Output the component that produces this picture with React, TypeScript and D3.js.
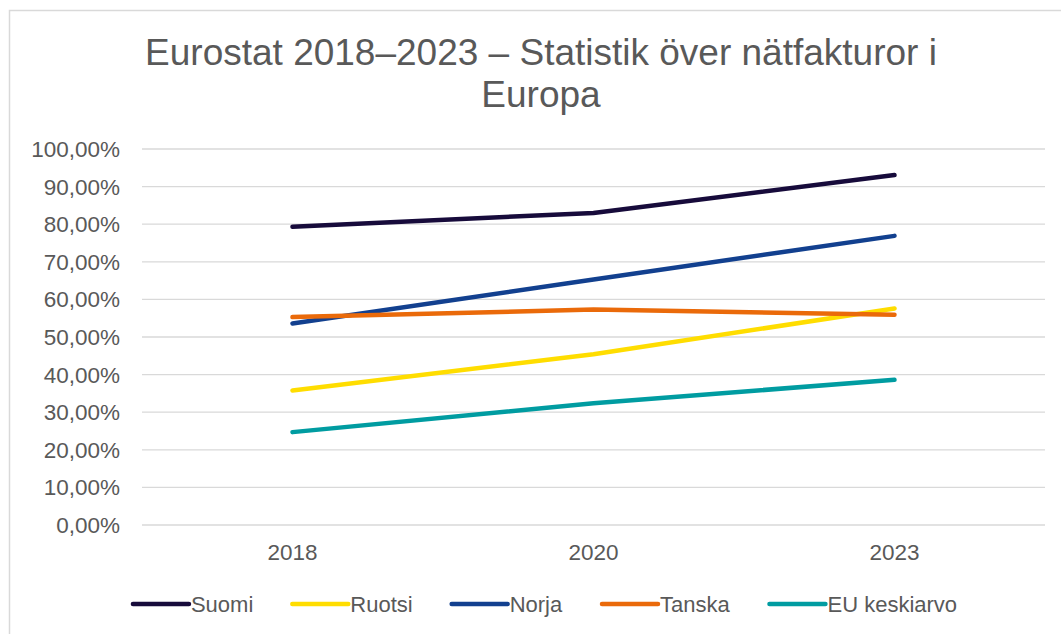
import { useEffect, useRef } from "react";
import * as d3 from "d3";

const years = ["2018", "2020", "2023"];
const seriesNames = ["Suomi", "Ruotsi", "Norja", "Tanska", "EU keskiarvo"];
const seriesColors = ["#170b3b", "#ffdd00", "#12408f", "#ea6a0a", "#009ca1"];
const suomi = [79.3, 83.0, 93.1];
const ruotsi = [35.8, 45.4, 57.6];
const norja = [53.6, 65.3, 76.9];
const tanska = [55.3, 57.3, 55.9];
const euAvg = [24.7, 32.4, 38.6];
const yTicks = [0, 10, 20, 30, 40, 50, 60, 70, 80, 90, 100];
const titleLines = ["Eurostat 2018–2023 – Statistik över nätfakturor i", "Europa"];

const width = 1061;
const height = 634;
const margin = { top: 149, right: 16, bottom: 109, left: 142 };
const font = "'Liberation Sans', Arial, sans-serif";
const textColor = "#595959";

export default function App() {
  const ref = useRef<SVGSVGElement>(null);

  useEffect(() => {
    draw();
  });

  function draw() {
    const svg = d3.select(ref.current);
    svg.selectAll("*").remove();

    const innerW = width - margin.left - margin.right;
    const innerH = height - margin.top - margin.bottom;

    // chart frame
    svg
      .append("rect")
      .attr("x", 9.5)
      .attr("y", 10.5)
      .attr("width", 1100)
      .attr("height", 700)
      .attr("fill", "white")
      .attr("stroke", "#d9d9d9")
      .attr("stroke-width", 1.5);

    // title
    svg
      .append("text")
      .attr("font-family", font)
      .attr("font-size", 37)
      .attr("fill", textColor)
      .attr("text-anchor", "middle")
      .selectAll("tspan")
      .data(titleLines)
      .enter()
      .append("tspan")
      .attr("x", 541)
      .attr("y", (_, i) => 65 + i * 42)
      .text((d) => d);

    const plot = svg
      .append("g")
      .attr("transform", "translate(" + margin.left + "," + margin.top + ")");

    const x = d3.scaleBand().domain(years).range([0, innerW]);
    const y = d3.scaleLinear().domain([0, 100]).range([innerH, 0]);

    // gridlines
    plot
      .selectAll("line.grid")
      .data(yTicks)
      .enter()
      .append("line")
      .attr("x1", 0)
      .attr("x2", innerW)
      .attr("y1", (d) => y(d))
      .attr("y2", (d) => y(d))
      .attr("stroke", "#d9d9d9")
      .attr("stroke-width", 1.3);

    // y labels
    plot
      .selectAll("text.ylab")
      .data(yTicks)
      .enter()
      .append("text")
      .attr("x", -22)
      .attr("y", (d) => y(d) + 8)
      .attr("text-anchor", "end")
      .attr("font-family", font)
      .attr("font-size", 22.5)
      .attr("fill", textColor)
      .text((d) => d.toFixed(2).replace(".", ",") + "%");

    // x labels
    plot
      .selectAll("text.xlab")
      .data(years)
      .enter()
      .append("text")
      .attr("x", (d) => x(d)! + x.bandwidth() / 2)
      .attr("y", innerH + 35)
      .attr("text-anchor", "middle")
      .attr("font-family", font)
      .attr("font-size", 22.5)
      .attr("fill", textColor)
      .text((d) => d);

    const allSeries = [suomi, ruotsi, norja, tanska, euAvg];
    const line = d3
      .line<number>()
      .x((_, i) => x(years[i])! + x.bandwidth() / 2)
      .y((d) => y(d));

    plot
      .selectAll("path.series")
      .data(allSeries)
      .enter()
      .append("path")
      .attr("d", (d) => line(d))
      .attr("fill", "none")
      .attr("stroke", (_, i) => seriesColors[i])
      .attr("stroke-width", 4.5)
      .attr("stroke-linecap", "round")
      .attr("stroke-linejoin", "round");

    // legend
    const legend = svg.append("g").attr("transform", "translate(0,604)");
    const items = legend
      .selectAll("g")
      .data(seriesNames)
      .enter()
      .append("g");
    items
      .append("line")
      .attr("x1", 0)
      .attr("x2", 56)
      .attr("stroke", (_, i) => seriesColors[i])
      .attr("stroke-width", 4.5)
      .attr("stroke-linecap", "round");
    items
      .append("text")
      .attr("x", 58)
      .attr("y", 8)
      .attr("font-family", font)
      .attr("font-size", 22)
      .attr("fill", textColor)
      .text((d) => d);

    const widths: number[] = [];
    items.each(function () {
      widths.push((this as SVGGElement).getBBox().width);
    });
    const gap = 39;
    const total = d3.sum(widths) + gap * (widths.length - 1);
    let cur = 545 - total / 2;
    items.attr("transform", (_, i) => {
      const t = "translate(" + cur + ",0)";
      cur += widths[i] + gap;
      return t;
    });
  }

  return (
    <svg
      ref={ref}
      width={width}
      height={height}
      style={{ position: "absolute", left: 0, top: 0, background: "white" }}
    ></svg>
  );
}
